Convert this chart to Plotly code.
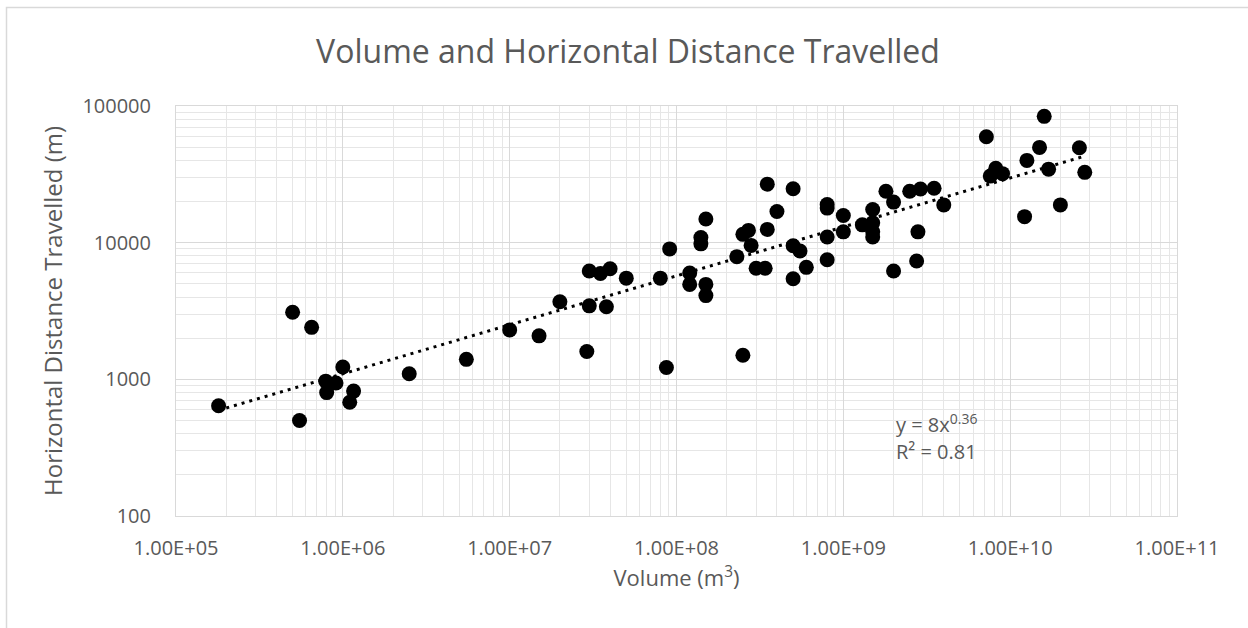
import numpy as np
import plotly.graph_objects as go

# ---- data ----
volume = [
    1.8e5, 5.0e5, 6.5e5, 5.5e5, 1.0e6, 7.9e5, 9.1e5, 8.0e5, 1.16e6, 1.1e6,
    2.5e6, 5.5e6, 1.0e7, 1.5e7, 2.0e7, 2.9e7, 3.0e7, 3.5e7, 4.0e7, 3.0e7,
    3.8e7, 5.0e7, 8.0e7, 8.7e7, 9.1e7, 1.2e8, 1.2e8, 1.4e8, 1.4e8, 1.5e8,
    1.5e8, 1.5e8, 2.5e8, 2.3e8, 2.5e8, 2.7e8, 2.8e8, 3.0e8, 3.4e8, 3.5e8,
    3.5e8, 4.0e8, 5.0e8, 5.0e8, 5.5e8, 5.0e8, 6.0e8, 8.0e8, 8.0e8, 8.0e8,
    8.0e8, 1.0e9, 1.0e9, 1.3e9, 1.5e9, 1.5e9, 1.5e9, 1.5e9, 1.8e9, 2.0e9,
    2.0e9, 2.5e9, 2.9e9, 2.8e9, 2.75e9, 3.5e9, 4.0e9, 7.2e9, 7.6e9, 8.2e9,
    9.0e9, 1.22e10, 1.26e10, 1.5e10, 1.6e10, 1.7e10, 2.0e10, 2.6e10, 2.8e10,
]
distance = [
    640, 3100, 2400, 500, 1230, 970, 940, 800, 820, 680,
    1100, 1400, 2300, 2080, 3700, 1600, 6200, 5950, 6450, 3450,
    3400, 5500, 5500, 1220, 9000, 6000, 4950, 10900, 9800, 14900,
    4950, 4100, 1500, 7900, 11500, 12300, 9550, 6500, 6500, 26800,
    12500, 16900, 24800, 9500, 8700, 5450, 6600, 19000, 17900, 11000,
    7500, 15800, 12000, 13500, 17500, 14000, 12000, 11000, 23800, 19800,
    6200, 23800, 24700, 12000, 7350, 25000, 18900, 59500, 30700, 35000,
    32000, 15500, 40000, 49800, 84000, 34500, 18900, 49500, 32700,
]
x_tickvals = [1e5, 1e6, 1e7, 1e8, 1e9, 1e10, 1e11]
x_ticktext = ["1.00E+05", "1.00E+06", "1.00E+07", "1.00E+08",
              "1.00E+09", "1.00E+10", "1.00E+11"]
y_tickvals = [100, 1000, 10000, 100000]
y_ticktext = ["100", "1000", "10000", "100000"]
equation_text = "y = 8x<sup>0.36</sup>"
r2_text = "R² = 0.81"

# ---- power trendline fitted in log-log space (as a spreadsheet does) ----
lx = np.log10(volume)
ly = np.log10(distance)
b, a = np.polyfit(lx, ly, 1)
trend_x = np.logspace(lx.min(), lx.max(), 60)
trend_y = 10 ** a * trend_x ** b

FONT = "Open Sans"
GREY = "#595959"

fig = go.Figure()
fig.add_trace(go.Scatter(
    x=volume, y=distance, mode="markers",
    marker=dict(size=15, color="black", line=dict(width=0)),
    showlegend=False, hoverinfo="x+y",
))
fig.add_trace(go.Scatter(
    x=trend_x, y=trend_y, mode="lines",
    line=dict(color="black", width=3, dash="3px,5px"),
    showlegend=False, hoverinfo="skip",
))

fig.update_layout(
    width=1248, height=628,
    margin=dict(l=176, r=71, t=106, b=112),
    paper_bgcolor="white", plot_bgcolor="white",
    font=dict(family=FONT, color=GREY),
    title=dict(text="Volume and Horizontal Distance Travelled",
               font=dict(size=32, color=GREY, family=FONT),
               x=628 / 1248, xref="container", xanchor="center",
               y=1 - 52 / 628, yref="container", yanchor="middle"),
    xaxis=dict(
        type="log", range=[5, 11],
        tickvals=x_tickvals, ticktext=x_ticktext,
        tickfont=dict(size=20, color=GREY),
        showgrid=True, gridcolor="#d9d9d9", gridwidth=1,
        minor=dict(dtick="D1", showgrid=True, gridcolor="#e6e6e6", gridwidth=1),
        showline=True, linecolor="#d9d9d9", linewidth=1, mirror=True,
        ticks="", zeroline=False, ticklabelstandoff=14,
        title=dict(text="Volume (m<sup>3</sup>)", font=dict(size=22, color=GREY),
                   standoff=8),
    ),
    yaxis=dict(
        type="log", range=[2, 5],
        tickvals=y_tickvals, ticktext=y_ticktext,
        tickfont=dict(size=20, color=GREY),
        showgrid=True, gridcolor="#d9d9d9", gridwidth=1,
        minor=dict(dtick="D1", showgrid=True, gridcolor="#e6e6e6", gridwidth=1),
        showline=True, linecolor="#d9d9d9", linewidth=1, mirror=True,
        ticks="", zeroline=False, ticklabelstandoff=20,
        title=dict(text="Horizontal Distance Travelled (m)",
                   font=dict(size=24, color=GREY), standoff=12),
    ),
    annotations=[
        dict(x=np.log10(2e9), y=2.678, xref="x", yref="y", text=equation_text,
             showarrow=False, xanchor="left", yanchor="middle",
             font=dict(size=20, color=GREY, family=FONT)),
        dict(x=np.log10(2e9), y=2.474, xref="x", yref="y", text=r2_text,
             showarrow=False, xanchor="left", yanchor="middle",
             font=dict(size=20, color=GREY, family=FONT)),
    ],
    shapes=[
        dict(type="rect", xref="paper", yref="paper",
             x0=(6.5 - 176) / 1001, x1=(1270 - 176) / 1001,
             y0=(516 - 650) / 410, y1=(516 - 7.5) / 410,
             line=dict(color="#d9d9d9", width=1.5), fillcolor="rgba(0,0,0,0)",
             layer="below"),
    ],
)

fig.write_html("out.html")
